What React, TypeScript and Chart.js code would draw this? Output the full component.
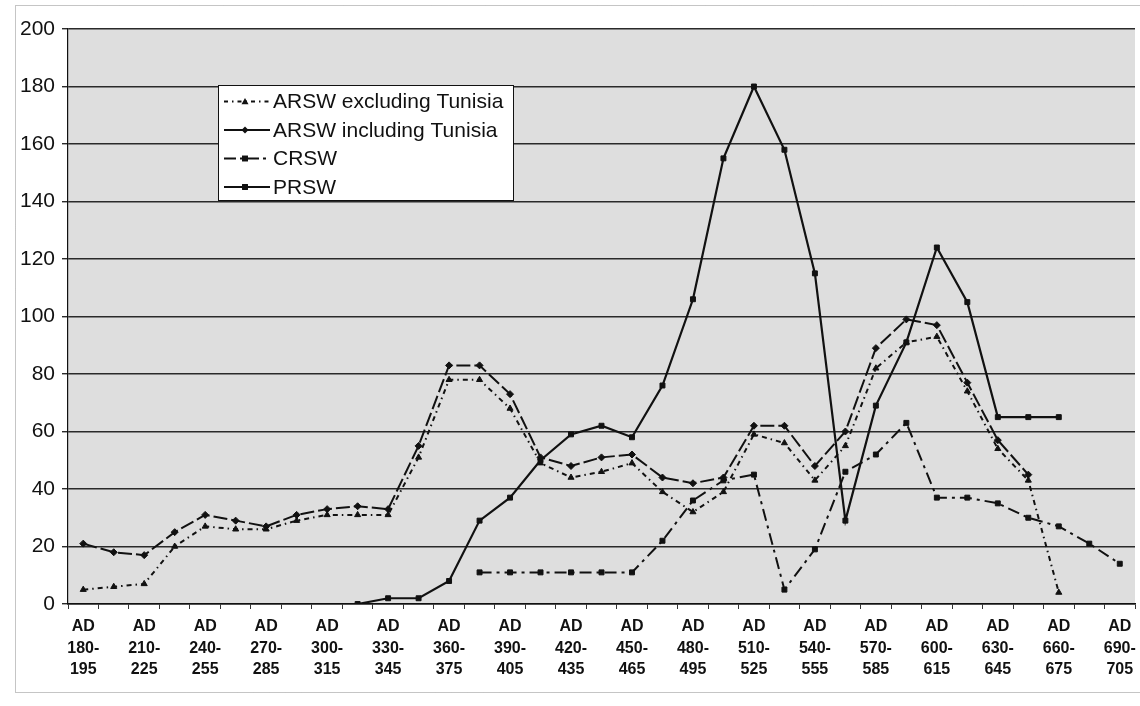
import React, { useEffect, useRef } from "react";
import { Chart, registerables } from "chart.js";

Chart.register(...registerables);

const periods = [
  "180-195", "195-210", "210-225", "225-240", "240-255", "255-270", "270-285",
  "285-300", "300-315", "315-330", "330-345", "345-360", "360-375", "375-390",
  "390-405", "405-420", "420-435", "435-450", "450-465", "465-480", "480-495",
  "495-510", "510-525", "525-540", "540-555", "555-570", "570-585", "585-600",
  "600-615", "615-630", "630-645", "645-660", "660-675", "675-690", "690-705",
];

const arswExcl = [
  5, 6, 7, 20, 27, 26, 26, 29, 31, 31, 31, 51, 78, 78, 68, 49, 44, 46, 49, 39,
  32, 39, 59, 56, 43, 55, 82, 91, 93, 74, 54, 43, 4, null, null,
];

const arswIncl = [
  21, 18, 17, 25, 31, 29, 27, 31, 33, 34, 33, 55, 83, 83, 73, 51, 48, 51, 52, 44,
  42, 44, 62, 62, 48, 60, 89, 99, 97, 77, 57, 45, null, null, null,
];

const crsw = [
  null, null, null, null, null, null, null, null, null, null, null, null, null,
  11, 11, 11, 11, 11, 11, 22, 36, 43, 45, 5, 19, 46, 52, 63, 37, 37, 35, 30, 27,
  21, 14,
];

const prsw = [
  null, null, null, null, null, null, null, null, null, 0, 2, 2, 8, 29, 37, 50,
  59, 62, 58, 76, 106, 155, 180, 158, 115, 29, 69, 91, 124, 105, 65, 65, 65,
  null, null,
];

const seriesNames = [
  "ARSW excluding Tunisia",
  "ARSW including Tunisia",
  "CRSW",
  "PRSW",
];

const FONT = '"Liberation Sans", Arial, sans-serif';

const dashes = [[5, 4, 1.5, 4], [14, 4], [12, 5, 3, 5], []];
const markers = ["triangle", "rectRot", "rect", "rect"];

const bgPlugin = {
  id: "bgPlugin",
  beforeDraw(chart: any) {
    const { ctx, chartArea } = chart;
    ctx.save();
    ctx.fillStyle = "#ffffff";
    ctx.fillRect(0, 0, chart.width, chart.height);
    ctx.strokeStyle = "#8a8a8a";
    ctx.lineWidth = 1;
    ctx.setLineDash([1, 1]);
    ctx.strokeRect(15.5, 5.5, 1200, 687);
    ctx.setLineDash([]);
    ctx.fillStyle = "#dedede";
    ctx.fillRect(
      chartArea.left,
      chartArea.top,
      chartArea.right - chartArea.left,
      chartArea.bottom - chartArea.top
    );
    ctx.restore();
  },
};

function drawMarker(ctx: CanvasRenderingContext2D, kind: string, x: number, y: number, r: number) {
  ctx.beginPath();
  if (kind === "triangle") {
    ctx.moveTo(x, y - r);
    ctx.lineTo(x + r, y + r * 0.8);
    ctx.lineTo(x - r, y + r * 0.8);
    ctx.closePath();
  } else if (kind === "rectRot") {
    ctx.moveTo(x, y - r);
    ctx.lineTo(x + r, y);
    ctx.lineTo(x, y + r);
    ctx.lineTo(x - r, y);
    ctx.closePath();
  } else {
    ctx.rect(x - r * 0.85, y - r * 0.85, r * 1.7, r * 1.7);
  }
  ctx.fill();
}

const legendPlugin = {
  id: "insideLegend",
  afterDraw(chart: any) {
    const ctx = chart.ctx as CanvasRenderingContext2D;
    const x0 = 218, y0 = 85, w = 295, h = 115;
    ctx.save();
    ctx.fillStyle = "#ffffff";
    ctx.fillRect(x0, y0, w, h);
    ctx.strokeStyle = "#111";
    ctx.lineWidth = 1;
    ctx.strokeRect(x0 + 0.5, y0 + 0.5, w, h);
    const rows = [101.5, 130, 158.5, 187];
    rows.forEach((ry, i) => {
      ctx.strokeStyle = "#111";
      ctx.fillStyle = "#111";
      ctx.lineWidth = 2;
      ctx.setLineDash(i === 0 ? [4, 4, 1.5, 4] : i === 2 ? [12, 4, 3, 4] : []);
      ctx.beginPath();
      ctx.moveTo(224, ry);
      ctx.lineTo(270, ry);
      ctx.stroke();
      ctx.setLineDash([]);
      drawMarker(ctx, markers[i], 245, ry, 3.5);
      ctx.font = `21px ${FONT}`;
      ctx.textBaseline = "middle";
      ctx.textAlign = "left";
      ctx.fillText(seriesNames[i], 273, ry + 1);
    });
    ctx.restore();
  },
};

export default function App() {
  const ref = useRef<HTMLCanvasElement | null>(null);

  useEffect(() => {
    if (!ref.current) return;
    const all = [arswExcl, arswIncl, crsw, prsw];
    const chart = new Chart(ref.current, {
      type: "line",
      data: {
        labels: periods,
        datasets: all.map((d, i) => ({
          label: seriesNames[i],
          data: d,
          borderColor: "#111",
          backgroundColor: "#111",
          borderWidth: i === 3 ? 2.2 : 2,
          borderDash: dashes[i],
          pointStyle: markers[i] as any,
          pointRadius: 3.5,
          pointBackgroundColor: "#111",
          pointBorderColor: "#111",
          pointBorderWidth: 1,
          tension: 0,
          spanGaps: false,
          fill: false,
        })),
      },
      options: {
        responsive: false,
        animation: false,
        layout: { padding: { left: 0, top: 29, right: 2, bottom: 0 } },
        plugins: {
          legend: { display: false },
          tooltip: { enabled: false },
        },
        scales: {
          x: {
            type: "category",
            offset: true,
            afterFit: (s: any) => {
              s.height = 102;
              s.paddingLeft = 0;
              s.paddingRight = 0;
            },
            grid: {
              display: true,
              drawOnChartArea: false,
              drawTicks: true,
              tickLength: 5,
              color: "#333",
              offset: true,
            },
            border: { display: true, color: "#111", width: 1.5 },
            ticks: {
              autoSkip: false,
              maxRotation: 0,
              minRotation: 0,
              padding: 7,
              color: "#111",
              font: { family: FONT, size: 16, weight: "bold", lineHeight: 1.35 },
              callback: (_v: any, idx: number) => {
                if (idx % 2 !== 0) return "";
                const [a, b] = periods[idx].split("-");
                return ["AD", a + "-", b];
              },
            },
          },
          y: {
            min: 0,
            max: 200,
            afterFit: (s: any) => {
              s.width = 68;
              s.paddingTop = 0;
              s.paddingBottom = 0;
            },
            grid: {
              color: "#2a2a2a",
              lineWidth: 1.4,
              tickLength: 6,
              drawTicks: true,
            },
            border: { display: true, color: "#111", width: 1.2 },
            ticks: {
              stepSize: 20,
              padding: 7,
              color: "#111",
              font: { family: FONT, size: 21 },
            },
          },
        },
      },
      plugins: [bgPlugin, legendPlugin],
    });
    return () => chart.destroy();
  }, []);

  return (
    <div style={{ position: "fixed", left: 0, top: 0, width: 1140, height: 706, background: "#fff" }}>
      <canvas ref={ref} width={1140} height={706} style={{ display: "block" }} />
    </div>
  );
}
